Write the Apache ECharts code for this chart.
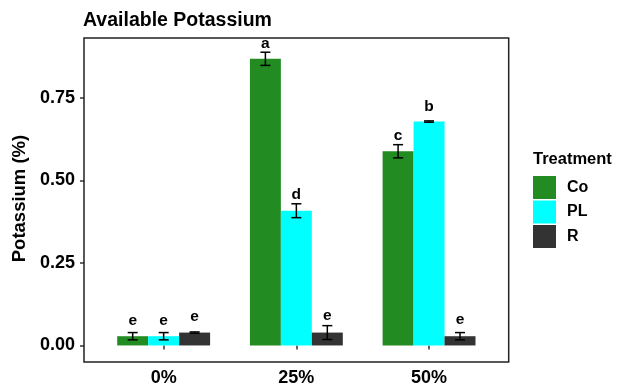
<!DOCTYPE html>
<html>
<head>
<meta charset="utf-8">
<script src="https://cdn.jsdelivr.net/npm/echarts@6/dist/echarts.min.js"></script>
<style>
html,body{margin:0;padding:0;background:#fff;}
#chart{width:619px;height:387px;}
</style>
</head>
<body>
<div id="chart"></div>
<script>
// ---- data ----
var categories = ['0%', '25%', '50%'];
var treatments = ['Co', 'PL', 'R'];
var coValues = [0.028, 0.868, 0.588];
var plValues = [0.028, 0.408, 0.678];
var rValues  = [0.039, 0.039, 0.028];
var coErr = [0.011, 0.020, 0.020];
var plErr = [0.011, 0.021, 0.002];
var rErr  = [0.002, 0.021, 0.011];
var coLetters = ['e', 'a', 'c'];
var plLetters = ['e', 'd', 'b'];
var rLetters  = ['e', 'e', 'e'];
var coLetterY = [0.062, 0.903, 0.622];
var plLetterY = [0.062, 0.445, 0.712];
var rLetterY  = [0.075, 0.077, 0.065];
var yTicks = [0, 0.25, 0.5, 0.75];
var yMin = -0.041, yMax = 0.931;

var colors = ['#228B22', '#00FFFF', '#333333'];
var FONT = '"Liberation Sans", Arial, sans-serif';

var valueSets = [coValues, plValues, rValues];
var errSets = [coErr, plErr, rErr];
var letterSets = [coLetters, plLetters, rLetters];
var letterYSets = [coLetterY, plLetterY, rLetterY];

var series = [];
treatments.forEach(function (t, i) {
  series.push({
    name: t, type: 'bar',
    data: valueSets[i],
    barGap: '0%', barCategoryGap: '30%',
    itemStyle: { color: colors[i] },
    z: 2
  });
});
treatments.forEach(function (t, i) {
  var d = categories.map(function (c, k) {
    return [k, valueSets[i][k], errSets[i][k], letterYSets[i][k], letterSets[i][k]];
  });
  series.push({
    name: t + ' err', type: 'custom', z: 5,
    data: d,
    encode: { x: 0, y: 1 },
    renderItem: function (params, api) {
      var k = api.value(0);
      var band = api.size([1, 0])[0];
      var bw = band * 0.7 / 3;
      var off = (i - 1) * bw;
      var m = api.value(1), e = api.value(2), ly = api.value(3);
      var letter = d[params.dataIndex][4];
      var pTop = api.coord([k, m + e]);
      var pBot = api.coord([k, m - e]);
      var pL = api.coord([k, ly]);
      var x = pTop[0] + off;
      var hw = 5;
      var st = { stroke: '#000', lineWidth: 1.5 };
      return {
        type: 'group',
        children: [
          { type: 'line', shape: { x1: x, y1: pTop[1], x2: x, y2: pBot[1] }, style: st },
          { type: 'line', shape: { x1: x - hw, y1: pTop[1], x2: x + hw, y2: pTop[1] }, style: st },
          { type: 'line', shape: { x1: x - hw, y1: pBot[1], x2: x + hw, y2: pBot[1] }, style: st },
          { type: 'text', style: { text: letter, x: x, y: pL[1] + 4, align: 'center', verticalAlign: 'bottom',
              font: 'bold 15.5px ' + FONT, fill: '#000' } }
        ]
      };
    }
  });
});

var chart = echarts.init(document.getElementById('chart'), null, { renderer: 'canvas' });
chart.setOption({
  backgroundColor: '#fff',
  animation: false,
  title: [{
    text: 'Available Potassium', left: 83, top: 11, padding: 0,
    textStyle: { fontFamily: FONT, fontWeight: 'bold', fontSize: 19.5, color: '#000' }
  }, {
    text: 'Treatment', left: 533, top: 151, padding: 0,
    textStyle: { fontFamily: FONT, fontWeight: 'bold', fontSize: 16.5, color: '#000' }
  }],
  legend: {
    data: treatments, orient: 'vertical', left: 533, top: 176, padding: 0,
    icon: 'rect', itemWidth: 23, itemHeight: 23, itemGap: 1.5,
    textStyle: { fontFamily: FONT, fontWeight: 'bold', fontSize: 16, color: '#000', padding: [0, 0, 0, 6] }
  },
  grid: { left: 97.3, right: 123.6, top: 38, bottom: 25, containLabel: false },
  xAxis: {
    type: 'category', data: categories,
    axisLine: { show: false },
    axisTick: { show: true, alignWithLabel: true, length: 4, lineStyle: { color: '#333', width: 1.5 } },
    axisLabel: { fontFamily: FONT, fontWeight: 'bold', fontSize: 18, color: '#000', margin: 10 }
  },
  yAxis: {
    type: 'value', min: yMin, max: yMax, offset: 13.3,
    name: 'Potassium (%)', nameLocation: 'middle', nameGap: 55, nameRotate: 90,
    nameTextStyle: { fontFamily: FONT, fontWeight: 'bold', fontSize: 18.5, color: '#000' },
    splitLine: { show: false },
    axisLine: { show: false },
    axisTick: { show: true, length: 4, customValues: yTicks, lineStyle: { color: '#333', width: 1.5 } },
    axisLabel: { customValues: yTicks, fontFamily: FONT, fontWeight: 'bold', fontSize: 18, color: '#000', margin: 9,
      formatter: function (v) { return v.toFixed(2); } }
  },
  graphic: [{
    type: 'rect', z: 10,
    shape: { x: 84, y: 38, width: 424.7, height: 324 },
    style: { fill: 'none', stroke: '#222', lineWidth: 1.5 }
  }],
  series: series
});
</script>
</body>
</html>
